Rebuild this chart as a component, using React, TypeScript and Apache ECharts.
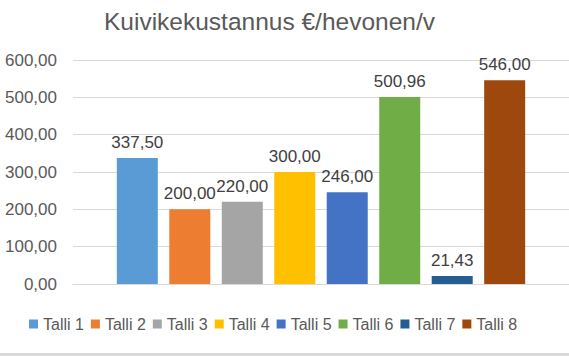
import React, { useEffect, useRef } from "react";
import * as echarts from "echarts";

const title = "Kuivikekustannus €/hevonen/v";
const seriesNames = ["Talli 1", "Talli 2", "Talli 3", "Talli 4", "Talli 5", "Talli 6", "Talli 7", "Talli 8"];
const seriesValues = [337.5, 200.0, 220.0, 300.0, 246.0, 500.96, 21.43, 546.0];
const seriesColors = ["#5B9BD5", "#ED7D31", "#A5A5A5", "#FFC000", "#4472C4", "#70AD47", "#255E91", "#9E480E"];
const categories = [""];

const fmt = (v: number) => v.toFixed(2).replace(".", ",");
const FONT = "'Liberation Sans', 'DejaVu Sans', sans-serif";

export default function App() {
  const ref = useRef<HTMLDivElement>(null);
  useEffect(() => {
    document.body.style.margin = "0";
    const chart = echarts.init(ref.current!, null, { renderer: "svg" });
    chart.setOption({
      animation: false,
      backgroundColor: "#ffffff",
      title: {
        text: title,
        left: 99,
        top: 4,
        textStyle: { fontFamily: FONT, fontSize: 24.5, fontWeight: "normal", color: "#595959" },
      },
      legend: {
        bottom: 19,
        left: 24,
        itemWidth: 9,
        itemHeight: 9,
        itemGap: 7,
        icon: "rect",
        textStyle: { fontFamily: FONT, fontSize: 16, color: "#595959" },
        data: seriesNames,
      },
      grid: { left: 73, right: -4, top: 60, bottom: 72 },
      xAxis: {
        type: "category",
        data: categories,
        axisLine: { lineStyle: { color: "#d9d9d9" } },
        axisTick: { show: false },
        axisLabel: { show: false },
      },
      yAxis: {
        type: "value",
        min: 0,
        max: 600,
        interval: 100,
        axisLine: { show: false },
        axisTick: { show: false },
        axisLabel: {
          margin: 16,
          formatter: (v: number) => fmt(v),
          fontFamily: FONT,
          fontSize: 17,
          color: "#595959",
        },
        splitLine: { lineStyle: { color: "#d9d9d9", width: 1 } },
      },
      series: seriesNames.map((name, i) => ({
        name,
        type: "bar",
        data: [seriesValues[i]],
        barWidth: 41,
        barGap: "28%",
        itemStyle: { color: seriesColors[i] },
        label: {
          show: true,
          position: "top",
          distance: 7,
          formatter: (p: any) => fmt(p.value),
          fontFamily: FONT,
          fontSize: 17,
          color: "#404040",
        },
      })),
      graphic: [
        {
          type: "rect",
          left: 0,
          bottom: 0,
          shape: { width: 569, height: 3 },
          style: { fill: "#d9d9d9" },
        },
      ],
    });
    return () => chart.dispose();
  }, []);
  return <div ref={ref} style={{ width: 569, height: 356 }} />;
}
